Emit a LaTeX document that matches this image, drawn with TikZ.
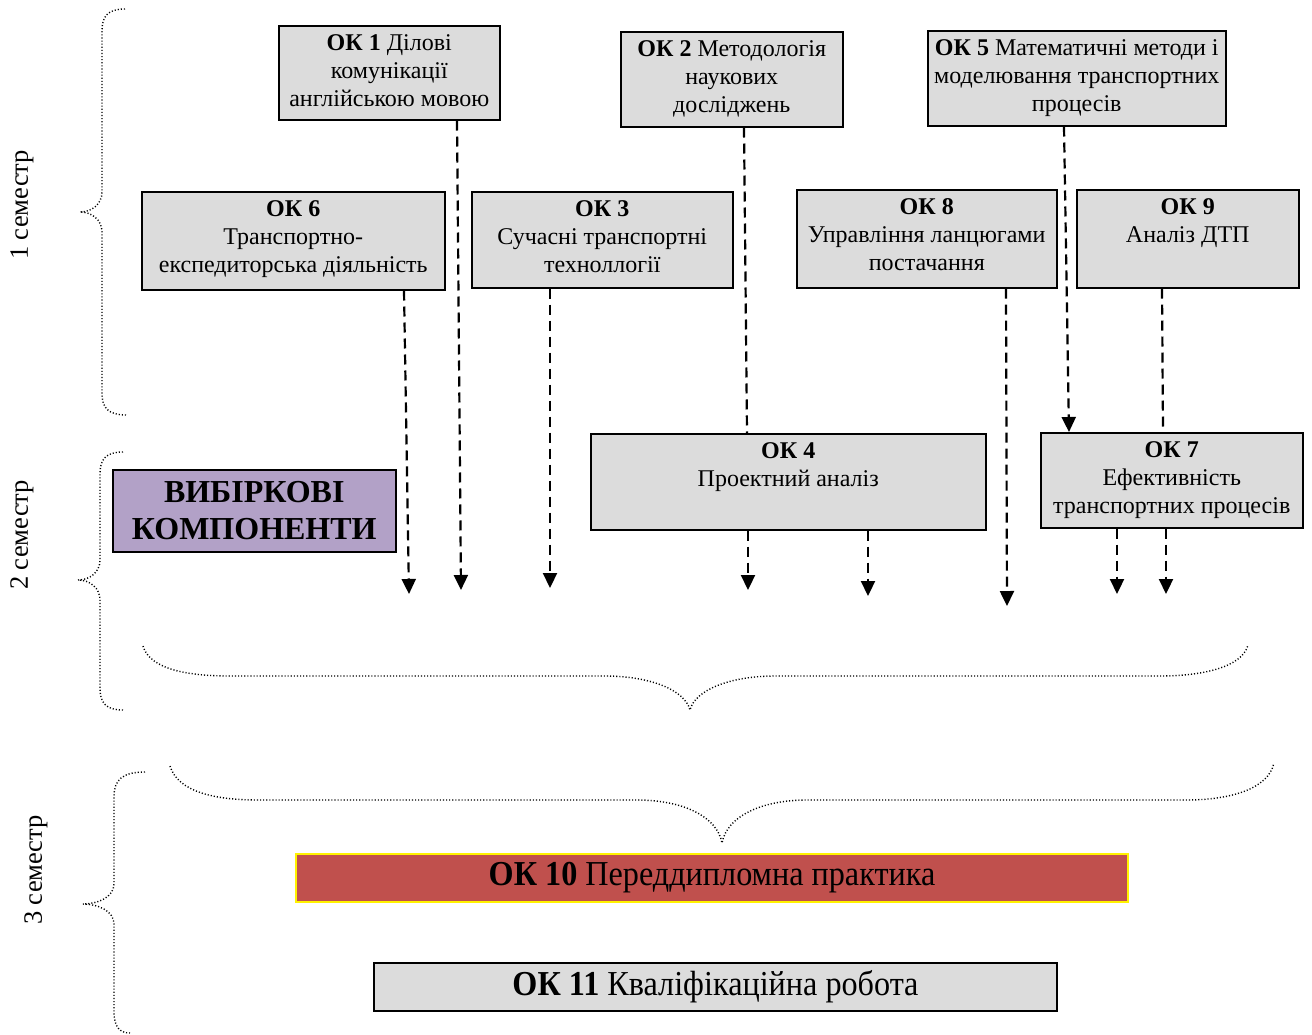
\documentclass[tikz,border=0pt]{standalone}
\usepackage{fontspec}
\setmainfont{Liberation Serif}
\newfontfamily\condfont[FakeStretch=0.92]{Liberation Serif}
\usetikzlibrary{arrows.meta,calc}
\definecolor{boxgray}{RGB}{220,220,220}
\definecolor{lilac}{RGB}{178,161,199}
\definecolor{brick}{RGB}{192,80,77}
\newcommand{\bxt}[3]{\parbox[c][#2][t]{#1}{\centering\rule{0pt}{25pt}#3\par}}
\begin{document}
\begin{tikzpicture}[x=1pt,y=-1pt,
  every node/.style={font=\fontsize{24}{28}\selectfont},
  okbox/.style={draw=black, line width=1.5pt, fill=boxgray, inner sep=0pt, anchor=north west},
  dashln/.style={line width=2.2pt, dash pattern=on 10pt off 6pt},
  dasharrow/.style={dashln, -{Triangle[length=15pt,width=14pt]}},
  bracestyle/.style={line width=1.4pt, dash pattern=on 1.1pt off 2pt},
  semlabel/.style={rotate=90, inner sep=0pt, font=\fontsize{26.5}{30}\selectfont}]
\useasboundingbox (0,0) rectangle (1312,1034);

% boxes, 1st semester
\node[okbox] (ok1) at (278,25) {\bxt{221pt}{94pt}{\textbf{ОК 1} Ділові\\комунікації\\англійською мовою}};
\node[okbox] (ok2) at (620,31) {\bxt{222pt}{95pt}{\textbf{ОК 2} Методологія\\наукових\\досліджень}};
\node[okbox] (ok5) at (927,30) {\bxt{298pt}{95pt}{\textbf{ОК 5} Математичні методи і\\моделювання транспортних\\процесів}};
\node[okbox] (ok6) at (141,191) {\bxt{303pt}{98pt}{\textbf{ОК 6}\\Транспортно-\\експедиторська діяльність}};
\node[okbox] (ok3) at (471,191) {\bxt{261pt}{96pt}{\textbf{ОК 3}\\Сучасні транспортні\\техноллогії}};
\node[okbox] (ok8) at (796,189) {\bxt{260pt}{98pt}{\textbf{ОК 8}\\Управління ланцюгами\\постачання}};
\node[okbox] (ok9) at (1076,189) {\bxt{222pt}{98pt}{\textbf{ОК 9}\\Аналіз ДТП}};

% 2nd semester
\node[okbox] (ok4) at (590,433) {\bxt{395pt}{96pt}{\textbf{ОК 4}\\Проектний аналіз}};
\node[okbox] (ok7) at (1040,432) {\bxt{262pt}{95pt}{\textbf{ОК 7}\\Ефективність\\транспортних процесів}};
\node[okbox, fill=lilac, minimum width=283pt, minimum height=82pt, align=center,
      font=\fontsize{32}{37}\selectfont\bfseries] (vib) at (112,469) {ВИБІРКОВІ\\КОМПОНЕНТИ};

% 3rd semester
\node[draw=yellow, line width=1.5pt, fill=brick, minimum width=832pt, minimum height=48pt, inner sep=0pt,
      font=\fontsize{35}{38}\condfont] (ok10) at (712,878) {\textbf{ОК 10} Переддипломна практика};
\node[draw=black, line width=1.5pt, fill=boxgray, minimum width=683pt, minimum height=48pt, inner sep=0pt,
      font=\fontsize{35}{38}\condfont] (ok11) at (715.5,987) {\textbf{ОК 11} Кваліфікаційна робота};

% semester labels
\node[semlabel] (s1) at (22,205) {1 семестр};
\node[semlabel] (s2) at (22,535) {2 семестр};
\node[semlabel] (s3) at (36,870) {3 семестр};

% free arrow ends
\coordinate (t6) at (409,594);
\coordinate (t1) at (461,590);
\coordinate (t3) at (550,588);
\coordinate (t4a) at (748,590);
\coordinate (t4b) at (868,596);
\coordinate (t8) at (1007,606);
\coordinate (t7a) at (1117,594);
\coordinate (t7b) at (1166,594);

% connectors
\draw[dasharrow] ($(ok6.south west)+(263,0)$) -- (t6);
\draw[dasharrow] ($(ok1.south west)+(179,0)$) -- (t1);
\draw[dasharrow] ($(ok3.south west)+(79,0)$) -- (t3);
\draw[dashln] ($(ok2.south west)+(124,0)$) -- ($(ok4.north west)+(157,0)$);
\draw[dasharrow] ($(ok4.south west)+(158,0)$) -- (t4a);
\draw[dasharrow] ($(ok4.south west)+(278,0)$) -- (t4b);
\draw[dasharrow] ($(ok8.south west)+(210,0)$) -- (t8);
\draw[dasharrow] ($(ok5.south west)+(137,0)$) -- ($(ok7.north west)+(29,0)$);
\draw[dashln] ($(ok9.south west)+(86,0)$) -- ($(ok7.north west)+(123,0)$);
\draw[dasharrow] ($(ok7.south west)+(77,0)$) -- (t7a);
\draw[dasharrow] ($(ok7.south west)+(126,0)$) -- (t7b);

% braces
\draw[bracestyle] (125,9) .. controls (108,9) and (102,16) .. (102,31) -- (102,192)
  .. controls (102,204) and (92,212) .. (80,212) .. controls (92,212) and (102,220) .. (102,232)
  -- (102,393) .. controls (102,408) and (108,415) .. (127,415);
\draw[bracestyle] (123,452) .. controls (106,452) and (100,459) .. (100,474) -- (100,560)
  .. controls (100,572) and (90,580) .. (78,580) .. controls (90,580) and (100,588) .. (100,600)
  -- (100,688) .. controls (100,703) and (106,710) .. (123,710);
\draw[bracestyle] (145,772) .. controls (122,772) and (114,780) .. (114,797) -- (114,884)
  .. controls (114,897) and (98,904) .. (83,904) .. controls (98,904) and (114,911) .. (114,924)
  -- (114,1012) .. controls (114,1027) and (120,1033) .. (130,1033);
\draw[bracestyle] (143,646) .. controls (150,670) and (190,676) .. (230,676) -- (605,676)
  .. controls (650,676) and (685,690) .. (690,710) .. controls (695,690) and (730,676) .. (775,676)
  -- (1160,676) .. controls (1200,676) and (1242,668) .. (1248,645);
\draw[bracestyle] (170,766) .. controls (178,792) and (215,800) .. (258,800) -- (637,800)
  .. controls (682,800) and (717,816) .. (722,843) .. controls (727,816) and (762,800) .. (807,800)
  -- (1186,800) .. controls (1228,800) and (1268,790) .. (1274,763);
\end{tikzpicture}
\end{document}
